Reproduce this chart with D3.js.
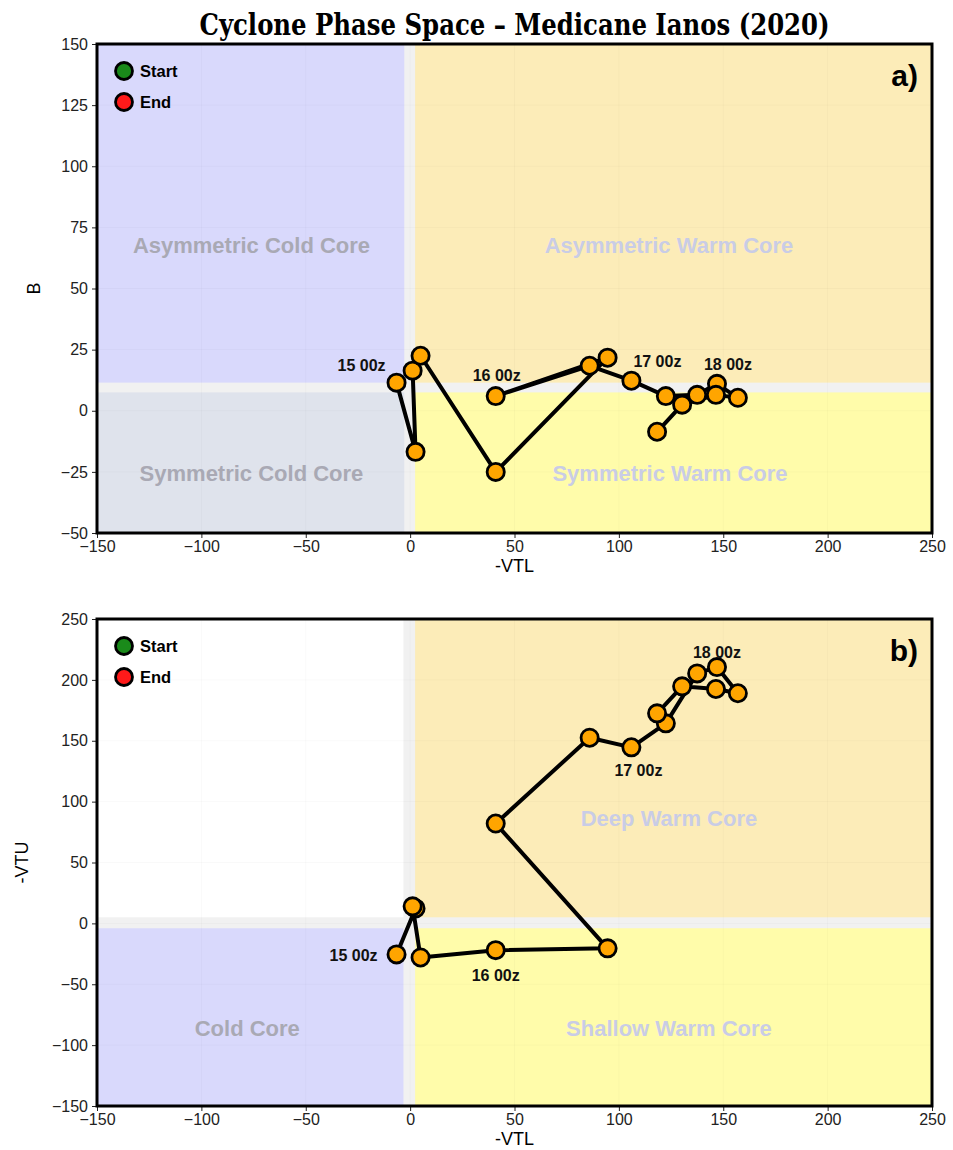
<!DOCTYPE html>
<html>
<head>
<meta charset="utf-8">
<script src="https://cdn.jsdelivr.net/npm/d3@7"></script>
<style>
  body { margin: 0; background: #fff; }
  svg { display: block; }
</style>
</head>
<body>
<div id="chart"></div>
<script>
// track of Ianos, 6-hourly
var vtl = [-6.5, 2.6, 1.2, 5, 41, 94.6, 41, 86, 106, 122.5, 137.5, 147, 157, 146.5, 130.3, 118.3];
var bParam = [11.5, -16.8, 16.4, 22.5, -25, 21.7, 6, 18.4, 12.3, 6, 6.5, 11, 5.3, 6.5, 2.5, -8.6];
var vtu = [-25.5, 12.3, 14, -28, -22, -20.5, 82, 152.5, 144.6, 164.3, 205.3, 210.5, 189, 192.5, 194.7, 172.5];

var labelsA = [{text: "15 00z", i: 0}, {text: "16 00z", i: 6}, {text: "17 00z", i: 8}, {text: "18 00z", i: 11}];
var labelsB = [{text: "15 00z", i: 0}, {text: "16 00z", i: 4}, {text: "17 00z", i: 8}, {text: "18 00z", i: 11}];

var xTicks = [-150, -100, -50, 0, 50, 100, 150, 200, 250];
var bTicks = [150, 125, 100, 75, 50, 25, 0, -25, -50];
var vtuTicks = [250, 200, 150, 100, 50, 0, -50, -100, -150];

var regionsA = ["Asymmetric Cold Core", "Asymmetric Warm Core", "Symmetric Cold Core", "Symmetric Warm Core"];
var regionsB = ["Cold Core", "Deep Warm Core", "Shallow Warm Core"];

var W = 953, H = 1150;
var svg = d3.select("#chart").append("svg").attr("width", W).attr("height", H)
  .style("font-family", "'Liberation Sans', Arial, sans-serif");

var fmt = function (d) { return d < 0 ? "\u2212" + Math.abs(d) : "" + d; };

svg.append("text")
  .attr("x", 514.5).attr("y", 35)
  .attr("text-anchor", "middle")
  .attr("textLength", 630).attr("lengthAdjust", "spacingAndGlyphs")
  .style("font-family", "'DejaVu Serif Condensed', 'DejaVu Serif', serif")
  .style("font-weight", "bold").style("font-size", "29px")
  .text("Cyclone Phase Space \u2013 Medicane Ianos (2020)");

var colLav = "#d9d9fc", colWarm = "#fcecb8", colYel = "#fffcaa", colGrey = "#dfe3ec", colStrip = "#f1f1f1";
var txtCold = "#a9a9b4", txtWarm = "#c9cce6";

function panel(opt) {
  var x = d3.scaleLinear().domain([-150, 250]).range([opt.left, opt.right]);
  var y = d3.scaleLinear().domain(opt.yDomain).range([opt.bottom, opt.top]);
  var g = svg.append("g");

  // quadrant fills
  var x0 = opt.xGap[0], x1 = opt.xGap[1], y0 = opt.yGap[0], y1 = opt.yGap[1];
  g.append("rect").attr("x", opt.left).attr("y", opt.top)
    .attr("width", opt.right - opt.left).attr("height", opt.bottom - opt.top).attr("fill", colStrip);
  var quads = [
    [-150, x0, y1, opt.yDomain[1], opt.fills[0]],
    [x1, 250, y1, opt.yDomain[1], opt.fills[1]],
    [-150, x0, opt.yDomain[0], y0, opt.fills[2]],
    [x1, 250, opt.yDomain[0], y0, opt.fills[3]]
  ];
  g.selectAll("rect.q").data(quads).enter().append("rect").attr("class", "q")
    .attr("x", function (d) { return x(d[0]); })
    .attr("y", function (d) { return y(d[3]); })
    .attr("width", function (d) { return x(d[1]) - x(d[0]); })
    .attr("height", function (d) { return y(d[2]) - y(d[3]); })
    .attr("fill", function (d) { return d[4]; });

  // faint grid
  g.selectAll("line.gx").data(xTicks.slice(1, -1)).enter().append("line")
    .attr("x1", function (d) { return x(d); }).attr("x2", function (d) { return x(d); })
    .attr("y1", opt.top).attr("y2", opt.bottom)
    .attr("stroke", "#000").attr("stroke-opacity", 0.025);
  g.selectAll("line.gy").data(opt.yTicks.slice(1, -1)).enter().append("line")
    .attr("y1", function (d) { return y(d); }).attr("y2", function (d) { return y(d); })
    .attr("x1", opt.left).attr("x2", opt.right)
    .attr("stroke", "#000").attr("stroke-opacity", 0.025);

  // region names
  g.selectAll("text.reg").data(opt.regions).enter().append("text")
    .attr("x", function (d) { return x(d.x); })
    .attr("y", function (d) { return y(d.y); })
    .attr("dy", "0.35em").attr("text-anchor", "middle")
    .style("font-weight", "bold").style("font-size", "22px")
    .attr("fill", function (d) { return d.c; })
    .text(function (d) { return d.name; });

  // track
  var line = d3.line().x(function (d) { return x(d[0]); }).y(function (d) { return y(d[1]); });
  var pts = vtl.map(function (v, i) { return [v, opt.ys[i]]; });
  g.append("path").datum(pts).attr("d", line)
    .attr("fill", "none").attr("stroke", "#000").attr("stroke-width", 4).attr("stroke-linejoin", "round");
  g.selectAll("circle.pt").data(pts).enter().append("circle")
    .attr("cx", function (d) { return x(d[0]); }).attr("cy", function (d) { return y(d[1]); })
    .attr("r", 8.6).attr("fill", "#ffa500").attr("stroke", "#000").attr("stroke-width", 2.8);

  // time labels
  g.selectAll("text.tl").data(opt.labels).enter().append("text")
    .attr("x", function (d, k) { return x(pts[d.i][0]) + opt.labelOff[k][0]; })
    .attr("y", function (d, k) { return y(pts[d.i][1]) + opt.labelOff[k][1]; })
    .attr("dy", "0.35em").attr("text-anchor", "middle")
    .style("font-weight", "bold").style("font-size", "16px").attr("fill", "#111")
    .text(function (d) { return d.text; });

  // legend
  var leg = [["Start", "#1a8a1a"], ["End", "#ff1a1a"]];
  var lg = g.selectAll("g.leg").data(leg).enter().append("g")
    .attr("transform", function (d, k) { return "translate(" + (opt.left + 27) + "," + (opt.top + 27 + k * 31) + ")"; });
  lg.append("circle").attr("r", 8.5).attr("fill", function (d) { return d[1]; })
    .attr("stroke", "#000").attr("stroke-width", 2.8);
  lg.append("text").attr("x", 16).attr("dy", "0.35em")
    .style("font-weight", "bold").style("font-size", "16.5px").text(function (d) { return d[0]; });

  // panel letter
  g.append("text").attr("x", opt.right - 14).attr("y", opt.top + 42).attr("text-anchor", "end")
    .style("font-weight", "bold").style("font-size", "30px").text(opt.letter);

  // axes
  var ax = g.append("g").attr("transform", "translate(0," + opt.bottom + ")")
    .call(d3.axisBottom(x).tickValues(xTicks).tickFormat(fmt).tickSize(5).tickPadding(3));
  var ay = g.append("g").attr("transform", "translate(" + opt.left + ",0)")
    .call(d3.axisLeft(y).tickValues(opt.yTicks).tickFormat(fmt).tickSize(5).tickPadding(4));
  [ax, ay].forEach(function (a) {
    a.select(".domain").remove();
    a.selectAll("text").style("font-size", "16px").attr("fill", "#222")
      .style("font-family", "'Liberation Sans', Arial, sans-serif");
    a.selectAll("line").attr("stroke", "#222");
  });

  g.append("rect").attr("x", opt.left).attr("y", opt.top)
    .attr("width", opt.right - opt.left).attr("height", opt.bottom - opt.top)
    .attr("fill", "none").attr("stroke", "#000").attr("stroke-width", 3);

  g.append("text").attr("x", (opt.left + opt.right) / 2).attr("y", opt.bottom + 39)
    .attr("text-anchor", "middle").style("font-size", "18px").text("-VTL");
  g.append("text").attr("transform", "translate(" + opt.ylabX + "," + (opt.top + opt.bottom) / 2 + ") rotate(-90)")
    .attr("text-anchor", "middle").style("font-size", "18px").text(opt.ylab);
}

panel({
  left: 97, right: 932, top: 44, bottom: 533,
  yDomain: [-50, 150], yTicks: bTicks, ys: bParam,
  xGap: [-2.8, 2.4], yGap: [7.5, 11.5],
  fills: [colLav, colWarm, colGrey, colYel],
  regions: [
    {name: regionsA[0], x: -76, y: 67.5, c: txtCold},
    {name: regionsA[1], x: 124, y: 67.5, c: txtWarm},
    {name: regionsA[2], x: -76, y: -25.5, c: txtCold},
    {name: regionsA[3], x: 124.5, y: -25.5, c: txtWarm}
  ],
  labels: labelsA,
  labelOff: [[-35, -17], [1, -21], [26, -19], [11, -19]],
  letter: "a)", ylab: "B", ylabX: 40
});

panel({
  left: 97, right: 932, top: 619, bottom: 1106,
  yDomain: [-150, 250], yTicks: vtuTicks, ys: vtu,
  xGap: [-3.2, 2.4], yGap: [-4, 5],
  fills: ["#ffffff", colWarm, colLav, colYel],
  regions: [
    {name: regionsB[0], x: -78, y: -86, c: txtCold},
    {name: regionsB[1], x: 124, y: 86, c: txtWarm},
    {name: regionsB[2], x: 124, y: -86, c: txtWarm}
  ],
  labels: labelsB,
  labelOff: [[-43, 1], [0, 25], [7, 23], [0, -15]],
  letter: "b)", ylab: "-VTU", ylabX: 28
});
</script>
</body>
</html>
